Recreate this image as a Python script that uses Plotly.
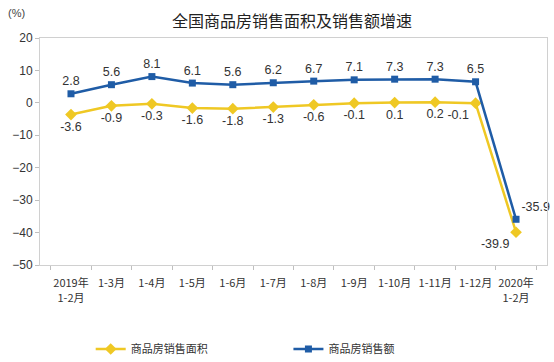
import plotly.graph_objects as go

categories = ["2019年<br>1-2月", "1-3月", "1-4月", "1-5月", "1-6月", "1-7月", "1-8月",
              "1-9月", "1-10月", "1-11月", "1-12月", "2020年<br>1-2月"]
area_growth = [-3.6, -0.9, -0.3, -1.6, -1.8, -1.3, -0.6, -0.1, 0.1, 0.2, -0.1, -39.9]
sales_growth = [2.8, 5.6, 8.1, 6.1, 5.6, 6.2, 6.7, 7.1, 7.3, 7.3, 6.5, -35.9]
y_ticks = [20, 10, 0, -10, -20, -30, -40, -50]

yellow = "#EFC824"
blue = "#1F5CA6"
label_font = dict(family="Liberation Sans, Arial", size=12.5, color="#333333")

fig = go.Figure()
fig.add_trace(go.Scatter(
    x=categories, y=area_growth, name="商品房销售面积", mode="lines+markers+text",
    line=dict(color=yellow, width=2.5),
    marker=dict(symbol="diamond", size=9, color=yellow),
    text=[f"{v:.1f}" for v in area_growth],
    textposition=["bottom center"] * 10 + ["bottom left", "bottom left"],
    textfont=label_font, legend="legend", cliponaxis=False, showlegend=True,
))
fig.add_trace(go.Scatter(
    x=categories, y=sales_growth, name="商品房销售额", mode="lines+markers+text",
    line=dict(color=blue, width=2.5),
    marker=dict(symbol="square", size=7, color=blue),
    text=[f"{v:.1f}" for v in sales_growth],
    textposition=["top center"] * 11 + ["top right"],
    textfont=label_font, legend="legend2", cliponaxis=False, showlegend=True,
))

fig.update_layout(
    width=554, height=362,
    margin=dict(l=40, r=7, t=38, b=97, autoexpand=False),
    showlegend=True,
    paper_bgcolor="white", plot_bgcolor="white",
    font=dict(family="Noto Sans CJK SC", color="#333333"),
    title=dict(text="全国商品房销售面积及销售额增速", xref="paper", x=0.497, xanchor="center",
               yref="container", y=0.94, yanchor="middle",
               font=dict(size=16, color="#222222")),
    legend=dict(orientation="h", x=0.1, y=-0.37, xanchor="left", yanchor="middle",
                font=dict(size=11, color="#333333"), bgcolor="rgba(0,0,0,0)"),
    legend2=dict(orientation="h", x=0.49, y=-0.37, xanchor="left", yanchor="middle",
                 font=dict(size=11, color="#333333"), bgcolor="rgba(0,0,0,0)"),
    annotations=[dict(text="(%)", xref="paper", yref="paper", x=-0.068, y=1.11,
                      xanchor="left", yanchor="middle", showarrow=False,
                      font=dict(size=11, color="#444444", family="Liberation Sans"))],
)
fig.update_xaxes(
    type="category", tickson="boundaries", ticks="outside", ticklen=4,
    tickcolor="#BFBFBF", showline=True, linecolor="#D0D0D0", mirror=True,
    showgrid=False, tickfont=dict(size=11, color="#333333", family="Noto Sans CJK SC"),
    tickangle=0, ticklabelstandoff=8,
)
fig.update_yaxes(
    range=[-50, 20], tickvals=y_ticks, ticks="outside", ticklen=4,
    tickcolor="#BFBFBF", showline=True, linecolor="#D0D0D0", mirror=True,
    showgrid=False, zeroline=False,
    tickfont=dict(size=12, color="#333333", family="Liberation Sans"),
)

fig.write_html("out.html", config={"displayModeBar": False},
               post_script="document.body.style.margin='0';document.body.style.padding='0';")
